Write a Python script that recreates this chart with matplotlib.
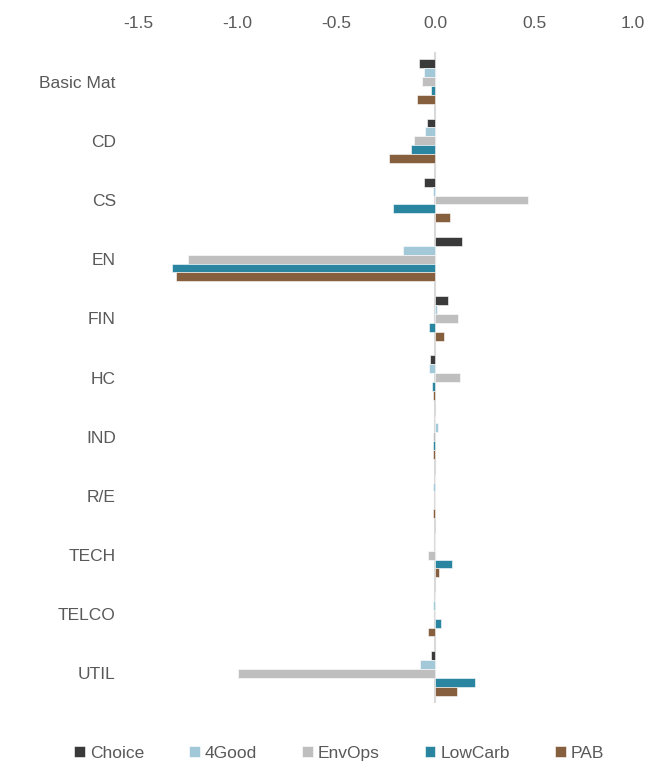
import numpy as np
import matplotlib.pyplot as plt

# ---------- データ ----------
categories = ["Basic Mat", "CD", "CS", "EN", "FIN", "HC", "IND", "R/E", "TECH", "TELCO", "UTIL"]
series = ["Choice", "4Good", "EnvOps", "LowCarb", "PAB"]

choice = [-0.08, -0.04, -0.055, 0.135, 0.065, -0.025, 0.0, 0.0, 0.0, 0.0, -0.02]
good4 = [-0.055, -0.05, -0.01, -0.16, 0.01, -0.03, 0.015, -0.01, 0.0, -0.01, -0.075]
envops = [-0.065, -0.105, 0.47, -1.245, 0.118, 0.128, -0.01, 0.0, -0.035, 0.0, -0.995]
lowcarb = [-0.02, -0.12, -0.21, -1.33, -0.03, -0.013, -0.01, 0.0, 0.087, 0.03, 0.2]
pab = [-0.09, -0.235, 0.075, -1.31, 0.047, -0.01, -0.01, -0.01, 0.02, -0.035, 0.11]

values = [choice, good4, envops, lowcarb, pab]
colors = ["#3a3a3a", "#a3c8d8", "#bfbfbf", "#2a86a0", "#86603e"]

xticks = [-1.5, -1.0, -0.5, 0.0, 0.5, 1.0]

# ---------- 描画 ----------
plt.rcParams['font.family'] = ['Liberation Sans', 'DejaVu Sans']
fig = plt.figure(figsize=(6.65, 7.65), dpi=100)
ax = fig.add_axes([0.2075, 0.081, 0.7445, 0.851])

y = np.arange(len(categories))
bh = 0.15
for i, (name, vals, c) in enumerate(zip(series, values, colors)):
    ax.barh(y + (i - 2) * bh, vals, height=bh, color=c, label=name,
            edgecolor="white", linewidth=0.4)

ax.axvline(0, color="#d9d9d9", linewidth=1.5, zorder=0)

ax.set_xlim(-1.5, 1.0)
ax.set_ylim(len(categories) - 0.5, -0.5)
ax.set_xticks(xticks)
ax.set_xticklabels([f"{t:.1f}" for t in xticks])
ax.xaxis.tick_top()
ax.set_yticks(y)
ax.set_yticklabels(categories)
ax.tick_params(axis="both", length=0, labelsize=12.5, labelcolor="#595959")
ax.tick_params(axis="x", pad=15)
ax.tick_params(axis="y", pad=16)
for s in ax.spines.values():
    s.set_visible(False)

fig.legend(loc="lower center", bbox_to_anchor=(0.51, -0.015), ncol=5, frameon=False,
           fontsize=12.5, labelcolor="#595959", handlelength=0.6, handleheight=0.6,
           handletextpad=0.3, columnspacing=2.6)

fig.savefig("out.png", dpi=100)
